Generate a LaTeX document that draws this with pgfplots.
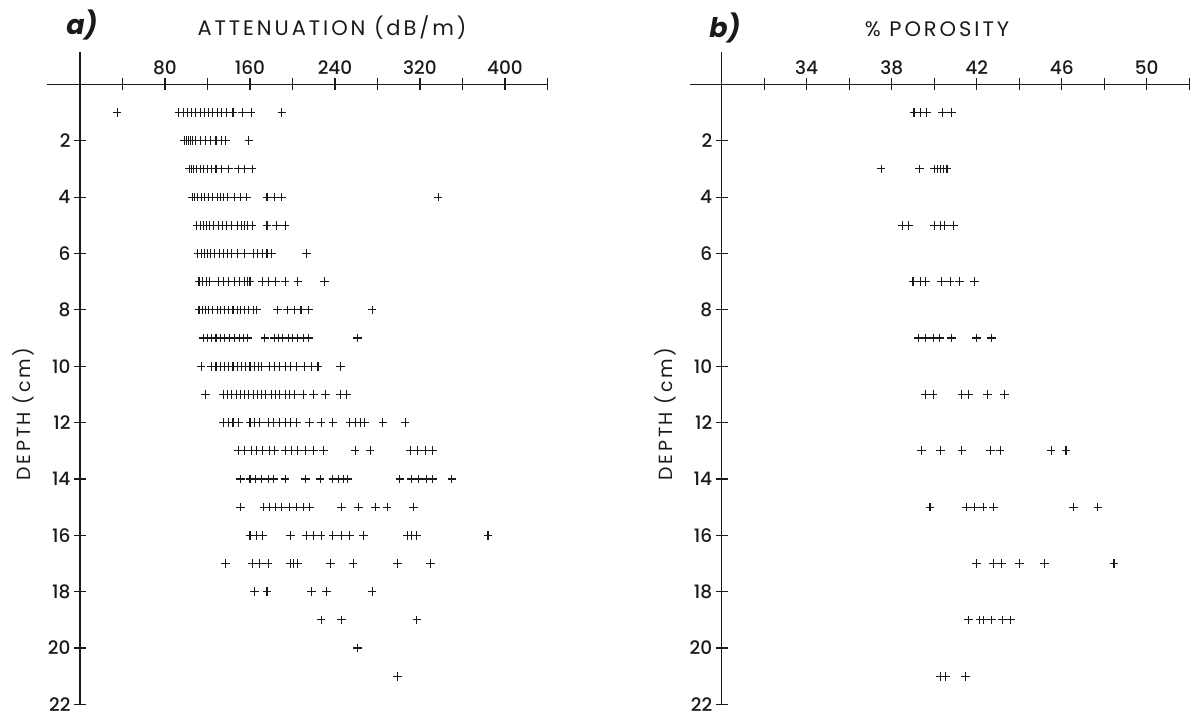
\documentclass[border=0pt]{standalone}
\usepackage{pgfplots}
\pgfplotsset{compat=1.18}
\usepackage{fontspec}
\setmainfont{Poppins}
\newfontfamily\ticksf{Poppins Medium}
\newfontfamily\titlef{Poppins}[LetterSpace=14]
\definecolor{ink}{HTML}{1A1A1A}
\begin{document}
\begin{tikzpicture}
\path[use as bounding box] (0pt,0pt) rectangle (1196pt,717pt);
\pgfplotsset{
  base/.style={
    scale only axis, width=467.5pt, height=620pt,
    ymin=0, ymax=22, y dir=reverse,
    axis line style={draw=none},
    clip=false,
    xtick pos=upper, xticklabel pos=upper,
    ytick pos=left, yticklabel pos=left,
    tick align=center,
    major tick length=12pt,
    every tick/.style={ink, line width=1.2pt},
    ytick={2,4,...,22},
    yticklabels={2,4,6,8,10,12,14,16,18,20,22},
    tick label style={font=\fontsize{18.5}{22}\ticksf, text=ink},
    mk/.style={only marks, mark=+, mark size=4.3pt, mark options={line width=1.1pt, ink}},
  }
}
% ---------------- a) attenuation
\begin{axis}[base, at={(80pt,12.6pt)}, anchor=south west,
  xmin=0, xmax=440,
  xtick={40,80,...,440},
  xticklabels={,80,,160,,240,,320,,400,}]
\draw[ink, line width=1.5pt] (axis cs:-31,0) -- (axis cs:440,0);
\draw[ink, line width=1.5pt] (axis cs:0,-1.15) -- (axis cs:0,22);
\addplot[mk] table {
x y
35 1
93 1
97 1
101 1
105 1
109 1
113 1
117 1
121 1
125 1
129 1
133 1
138 1
144 1
153 1
161 1
190 1
98 2
100 2
102 2
104 2
106 2
109 2
113 2
118 2
123 2
128 2
133 2
137 2
159 2
103 3
105 3
107 3
110 3
113 3
116 3
120 3
124 3
128 3
133 3
140 3
149 3
155 3
162 3
106 4
108 4
111 4
114 4
117 4
121 4
125 4
129 4
132 4
135 4
139 4
145 4
151 4
157 4
176 4
183 4
190 4
337 4
110 5
113 5
116 5
119 5
122 5
126 5
130 5
134 5
138 5
143 5
148 5
152 5
155 5
158 5
162 5
176 5
185 5
193 5
111 6
114 6
117 6
120 6
123 6
127 6
131 6
135 6
139 6
143 6
148 6
155 6
163 6
167 6
172 6
176 6
180 6
213 6
112 7
115 7
119 7
122 7
130 7
135 7
140 7
145 7
150 7
155 7
158 7
160 7
172 7
177 7
184 7
193 7
205 7
230 7
112 8
115 8
118 8
121 8
125 8
129 8
132 8
136 8
140 8
144 8
148 8
151 8
155 8
159 8
163 8
166 8
186 8
195 8
202 8
208 8
215 8
275 8
116 9
120 9
124 9
128 9
132 9
136 9
141 9
145 9
150 9
154 9
158 9
174 9
183 9
187 9
191 9
196 9
200 9
205 9
210 9
215 9
261 9
114 10
124 10
128 10
132 10
136 10
140 10
144 10
148 10
152 10
156 10
160 10
164 10
168 10
171 10
178 10
183 10
188 10
193 10
198 10
204 10
211 10
218 10
224 10
245 10
118 11
135 11
139 11
143 11
147 11
151 11
155 11
159 11
163 11
167 11
171 11
175 11
180 11
184 11
188 11
193 11
197 11
202 11
210 11
220 11
231 11
245 11
251 11
135 12
140 12
144 12
149 12
160 12
164 12
169 12
177 12
182 12
188 12
193 12
198 12
204 12
216 12
227 12
238 12
254 12
259 12
264 12
268 12
285 12
306 12
149 13
155 13
161 13
166 13
172 13
178 13
183 13
193 13
199 13
205 13
212 13
220 13
229 13
259 13
273 13
311 13
318 13
325 13
332 13
151 14
160 14
165 14
171 14
177 14
182 14
193 14
212 14
226 14
238 14
243 14
248 14
252 14
301 14
312 14
319 14
326 14
332 14
350 14
151 15
173 15
178 15
184 15
190 15
197 15
204 15
210 15
216 15
246 15
262 15
278 15
289 15
314 15
160 16
166 16
172 16
198 16
213 16
220 16
227 16
238 16
246 16
254 16
267 16
308 16
312 16
317 16
384 16
137 17
162 17
169 17
177 17
198 17
201 17
205 17
236 17
257 17
299 17
330 17
164 18
176 18
218 18
232 18
275 18
227 19
246 19
317 19
261 20
299 21
};
\end{axis}
% ---------------- b) porosity
\begin{axis}[base, at={(721.7pt,12.6pt)}, anchor=south west,
  xmin=30, xmax=52,
  xtick={32,34,...,52},
  xticklabels={,34,,38,,42,,46,,50,}]
\draw[ink, line width=1.5pt] (axis cs:28.5,0) -- (axis cs:52,0);
\draw[ink, line width=1.5pt] (axis cs:30,-1.15) -- (axis cs:30,22);
\addplot[mk] table {
x y
39.05 1
39.37 1
39.65 1
40.4 1
40.8 1
37.5 3
39.3 3
40.0 3
40.15 3
40.3 3
40.45 3
40.6 3
38.5 5
38.8 5
40.0 5
40.3 5
40.5 5
40.9 5
39.0 7
39.35 7
39.6 7
40.35 7
40.75 7
41.2 7
41.9 7
39.25 9
39.6 9
39.95 9
40.25 9
40.8 9
42.0 9
42.7 9
39.6 11
39.95 11
41.3 11
41.6 11
42.5 11
43.3 11
39.4 13
40.3 13
41.3 13
42.66 13
43.1 13
45.5 13
46.2 13
39.8 15
41.5 15
41.9 15
42.3 15
42.8 15
46.55 15
47.7 15
42.0 17
42.78 17
43.17 17
44.0 17
45.2 17
48.46 17
41.6 19
42.15 19
42.3 19
42.7 19
43.2 19
43.6 19
40.3 21
40.55 21
41.48 21
};
\end{axis}
% ---------------- texts
\node[font=\fontsize{21}{24}\titlef, text=ink] at (332pt,689pt) {ATTENUATION (dB/m)};
\node[font=\fontsize{21}{24}\titlef, text=ink] at (937pt,688pt) {\% POROSITY};
\node[font=\fontsize{27}{30}\selectfont\bfseries\itshape, text=ink] at (82pt,692pt) {a)};
\node[font=\fontsize{27}{30}\selectfont\bfseries\itshape, text=ink] at (725pt,689pt) {b)};
\node[font=\fontsize{19}{22}\titlef, text=ink, rotate=90] at (23pt,303pt) {DEPTH (cm)};
\node[font=\fontsize{19}{22}\titlef, text=ink, rotate=90] at (665pt,303pt) {DEPTH (cm)};
\end{tikzpicture}
\end{document}
